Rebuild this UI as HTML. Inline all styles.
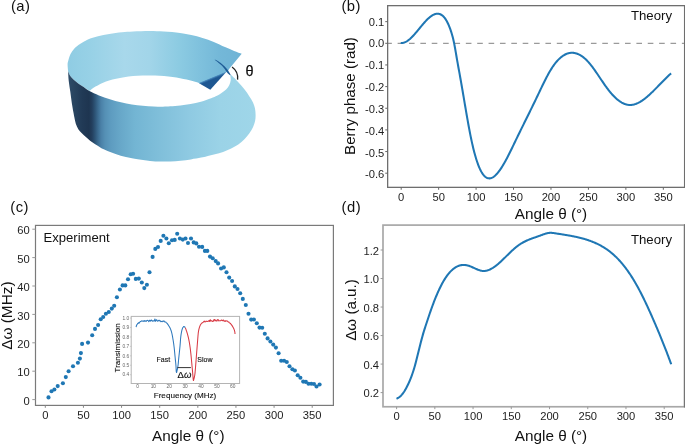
<!DOCTYPE html>
<html><head><meta charset="utf-8"><style>
html,body{margin:0;padding:0;background:#fff;width:685px;height:444px;overflow:hidden}
svg{display:block;filter:blur(0.3px);font-family:"Liberation Sans", sans-serif}
</style></head><body>
<svg width="685" height="444" viewBox="0 0 685 444">
<rect width="685" height="444" fill="#fff"/>
<defs>
<linearGradient id="gBack" gradientUnits="userSpaceOnUse" x1="67" y1="0" x2="242" y2="0">
<stop offset="0" stop-color="#8fcce3"/><stop offset="0.13" stop-color="#97d1e6"/><stop offset="0.33" stop-color="#a8d8eb"/>
<stop offset="0.47" stop-color="#a2d5e9"/><stop offset="0.64" stop-color="#8ccbe2"/><stop offset="0.76" stop-color="#7fc1dd"/>
<stop offset="0.87" stop-color="#74b8d8"/><stop offset="1" stop-color="#6fb3d5"/>
</linearGradient>
<linearGradient id="gFront" gradientUnits="userSpaceOnUse" x1="68" y1="0" x2="256" y2="0">
<stop offset="0" stop-color="#2e4c69"/><stop offset="0.032" stop-color="#294560"/><stop offset="0.075" stop-color="#213a56"/>
<stop offset="0.1117" stop-color="#1e3550"/><stop offset="0.1277" stop-color="#233f5e"/><stop offset="0.1436" stop-color="#2d5476"/>
<stop offset="0.1596" stop-color="#3b6b90"/><stop offset="0.1755" stop-color="#4a80a7"/><stop offset="0.1968" stop-color="#5590b5"/><stop offset="0.2287" stop-color="#5e9cc0"/><stop offset="0.282" stop-color="#68a8c9"/>
<stop offset="0.356" stop-color="#73b5d3"/><stop offset="0.489" stop-color="#80bfda"/><stop offset="0.649" stop-color="#8fcae2"/>
<stop offset="0.81" stop-color="#9bd3e7"/><stop offset="1" stop-color="#9fd6e9"/>
</linearGradient>
<linearGradient id="gTri" gradientUnits="userSpaceOnUse" x1="212.19" y1="76.84" x2="213.26" y2="79.43">
<stop offset="0" stop-color="#70b3d5" stop-opacity="0"/><stop offset="0.3" stop-color="#4f8fc0"/><stop offset="0.7" stop-color="#2a66a0"/><stop offset="1" stop-color="#1e5791"/>
</linearGradient>
</defs>
<path d="M68.1,71.3 C68.02,70.17 67.58,66.22 67.60,64.50 C67.62,62.78 67.73,62.70 68.20,61.00 C68.67,59.30 69.37,56.37 70.40,54.30 C71.43,52.23 72.80,50.30 74.40,48.60 C76.00,46.90 77.75,45.60 80.00,44.10 C82.25,42.60 84.90,40.90 87.90,39.60 C90.90,38.30 94.43,37.23 98.00,36.30 C101.57,35.37 105.30,34.67 109.30,34.00 C113.30,33.33 118.03,32.72 122.00,32.30 C125.97,31.88 128.47,31.72 133.10,31.50 C137.73,31.28 144.68,30.98 149.80,31.00 C154.92,31.02 158.77,31.27 163.80,31.60 C168.83,31.93 175.42,32.42 180.00,33.00 C184.58,33.58 187.55,34.27 191.30,35.10 C195.05,35.93 198.75,36.87 202.50,38.00 C206.25,39.13 210.05,40.40 213.80,41.90 C217.55,43.40 221.62,45.50 225.00,47.00 C228.38,48.50 231.32,49.78 234.10,50.90 C236.88,52.02 240.43,53.23 241.70,53.70 L229.50,68.40 227.40,71.70 225.60,72.60 L199.5,83.4 C199.08,83.22 199.15,82.93 197.00,82.30 C194.85,81.67 190.67,80.48 186.60,79.60 C182.53,78.72 177.87,77.67 172.60,77.00 C167.33,76.33 160.85,75.80 155.00,75.60 C149.15,75.40 143.33,75.42 137.50,75.80 C131.67,76.18 125.25,76.97 120.00,77.90 C114.75,78.83 110.08,79.95 106.00,81.40 C101.92,82.85 98.27,85.00 95.50,86.60 C92.73,88.20 90.42,90.27 89.40,91.00 C88.43,90.33 85.47,88.27 83.60,87.00 C81.73,85.73 79.85,84.60 78.20,83.40 C76.55,82.20 75.05,81.07 73.70,79.80 C72.35,78.53 71.03,77.22 70.10,75.80 C69.17,74.38 68.43,72.05 68.10,71.30 Z" fill="url(#gBack)"/>
<path d="M68.10,71.30 C68.43,72.05 69.17,74.38 70.10,75.80 C71.03,77.22 72.35,78.53 73.70,79.80 C75.05,81.07 76.55,82.20 78.20,83.40 C79.85,84.60 81.73,85.73 83.60,87.00 C85.47,88.27 86.83,89.60 89.40,91.00 C91.97,92.40 95.58,94.03 99.00,95.40 C102.42,96.77 106.25,98.05 109.90,99.20 C113.55,100.35 117.25,101.42 120.90,102.30 C124.55,103.18 128.15,103.92 131.80,104.50 C135.45,105.08 139.15,105.47 142.80,105.80 C146.45,106.13 150.33,106.35 153.70,106.50 C157.07,106.65 160.25,106.73 163.00,106.70 C165.75,106.67 167.30,106.52 170.20,106.30 C173.10,106.08 177.00,105.77 180.40,105.40 C183.80,105.03 187.18,104.70 190.60,104.10 C194.02,103.50 197.48,102.77 200.90,101.80 C204.32,100.83 208.42,99.30 211.10,98.30 C213.78,97.30 215.27,96.68 217.00,95.80 C218.73,94.92 219.98,94.03 221.50,93.00 C223.02,91.97 224.82,90.88 226.10,89.60 C227.38,88.32 228.43,86.87 229.20,85.30 C229.97,83.73 230.52,81.82 230.70,80.20 C230.88,78.58 230.37,76.37 230.30,75.60 L231.20,75.10 C232.38,76.28 236.10,79.83 238.30,82.20 C240.50,84.57 242.55,86.93 244.40,89.30 C246.25,91.67 247.97,94.20 249.40,96.40 C250.83,98.60 252.07,100.47 253.00,102.50 C253.93,104.53 254.57,106.52 255.00,108.60 C255.43,110.68 255.58,112.92 255.60,115.00 C255.62,117.08 255.53,119.07 255.10,121.10 C254.67,123.13 253.95,125.18 253.00,127.20 C252.05,129.22 250.83,131.18 249.40,133.20 C247.97,135.22 246.25,137.43 244.40,139.30 C242.55,141.17 240.50,142.88 238.30,144.40 C236.10,145.92 233.73,147.15 231.20,148.40 C228.67,149.65 225.80,150.93 223.10,151.90 C220.40,152.87 217.68,153.48 215.00,154.20 C212.32,154.92 209.32,155.63 207.00,156.20 C204.68,156.77 203.78,157.07 201.10,157.60 C198.42,158.13 194.32,158.88 190.90,159.40 C187.48,159.92 184.02,160.37 180.60,160.70 C177.18,161.03 173.80,161.27 170.40,161.40 C167.00,161.53 163.60,161.58 160.20,161.50 C156.80,161.42 154.02,161.30 150.00,160.90 C145.98,160.50 140.12,159.73 136.10,159.10 C132.08,158.47 129.32,157.95 125.90,157.10 C122.48,156.25 119.02,155.20 115.60,154.00 C112.18,152.80 107.95,151.00 105.40,149.90 C102.85,148.80 102.00,148.33 100.30,147.40 C98.60,146.47 96.90,145.42 95.20,144.30 C93.50,143.18 91.75,141.98 90.10,140.70 C88.45,139.42 86.72,137.88 85.30,136.60 C83.88,135.32 82.77,134.23 81.60,133.00 C80.43,131.77 79.27,130.73 78.30,129.20 C77.33,127.67 76.45,125.73 75.80,123.80 C75.15,121.87 74.80,119.52 74.40,117.60 C74.00,115.68 73.83,114.75 73.40,112.30 C72.97,109.85 72.32,106.32 71.80,102.90 C71.28,99.48 70.82,95.48 70.30,91.80 C69.78,88.12 69.07,84.22 68.70,80.80 C68.33,77.38 68.20,72.88 68.10,71.30 Z" fill="url(#gFront)"/>
<path d="M198.9,82.5 L199.5,83.4 L210.3,89.7 L225.8,72.5 L225.3,71.4 Z" fill="url(#gTri)"/>
<path d="M214.60,59.80 C215.23,60.28 217.17,61.70 218.40,62.70 C219.63,63.70 220.95,64.75 222.00,65.80 C223.05,66.85 223.95,68.02 224.70,69.00 C225.45,69.98 225.82,70.82 226.50,71.70 C227.18,72.58 228.15,73.65 228.80,74.30 C229.45,74.95 230.13,75.38 230.40,75.60 C230.43,75.52 230.65,75.40 230.60,75.10 C230.55,74.80 230.42,74.40 230.10,73.80 C229.78,73.20 229.22,72.30 228.70,71.50 C228.18,70.70 227.70,69.87 227.00,69.00 C226.30,68.13 225.53,67.28 224.50,66.30 C223.47,65.32 222.22,64.15 220.80,63.10 C219.38,62.05 217.03,60.55 216.00,60.00 C214.97,59.45 214.83,59.83 214.60,59.80 Z" fill="#1f5c96"/>
<path d="M232.05,66.92 A13.7,13.7 0 0 1 237.60,79.67" fill="none" stroke="#222" stroke-width="1.3"/>
<text x="245.4" y="75.9" font-size="14.5" fill="#111" stroke="#111" stroke-width="0.25">θ</text>
<line x1="387.65" y1="43.4" x2="684.6" y2="43.4" stroke="#9a9a9a" stroke-width="1.3" stroke-dasharray="5.6 5.77" stroke-dashoffset="1.4"/>
<path d="M400.70,42.94 L401.20,42.98 L401.70,42.98 L402.20,42.95 L402.70,42.89 L403.20,42.79 L403.70,42.67 L404.20,42.51 L404.70,42.33 L405.20,42.12 L405.70,41.88 L406.20,41.61 L406.70,41.32 L407.20,41.01 L407.70,40.67 L408.20,40.32 L408.70,39.94 L409.20,39.54 L409.70,39.12 L410.20,38.68 L410.70,38.22 L411.20,37.75 L411.70,37.27 L412.20,36.76 L412.70,36.25 L413.20,35.72 L413.70,35.18 L414.20,34.63 L414.70,34.07 L415.20,33.50 L415.70,32.92 L416.20,32.34 L416.70,31.75 L417.20,31.15 L417.70,30.55 L418.20,29.94 L418.70,29.34 L419.20,28.73 L419.70,28.12 L420.20,27.51 L420.70,26.91 L421.20,26.30 L421.70,25.70 L422.20,25.10 L422.70,24.51 L423.20,23.92 L423.70,23.34 L424.20,22.77 L424.70,22.21 L425.20,21.66 L425.70,21.12 L426.20,20.58 L426.70,20.07 L427.20,19.56 L427.70,19.07 L428.20,18.60 L428.70,18.14 L429.20,17.70 L429.70,17.27 L430.20,16.87 L430.70,16.49 L431.20,16.12 L431.70,15.78 L432.20,15.46 L432.70,15.17 L433.20,14.90 L433.70,14.65 L434.20,14.44 L434.70,14.25 L435.20,14.09 L435.70,13.95 L436.20,13.85 L436.70,13.78 L437.20,13.74 L437.70,13.74 L438.20,13.77 L438.70,13.83 L439.20,13.93 L439.70,14.07 L440.20,14.25 L440.70,14.48 L441.20,14.74 L441.70,15.05 L442.20,15.41 L442.70,15.82 L443.20,16.28 L443.70,16.79 L444.20,17.36 L444.70,17.98 L445.20,18.66 L445.70,19.39 L446.20,20.19 L446.70,21.05 L447.20,21.98 L447.70,22.97 L448.20,24.03 L448.70,25.15 L449.20,26.35 L449.70,27.62 L450.20,28.97 L450.70,30.39 L451.20,31.89 L451.70,33.49 L452.20,35.21 L452.70,37.06 L453.20,39.06 L453.70,41.25 L454.20,43.62 L454.70,46.21 L455.20,48.96 L455.70,51.83 L456.20,54.77 L456.70,57.71 L457.20,60.60 L457.70,63.42 L458.20,66.20 L458.70,68.95 L459.20,71.69 L459.70,74.43 L460.20,77.20 L460.70,80.00 L461.20,82.84 L461.70,85.72 L462.20,88.62 L462.70,91.54 L463.20,94.48 L463.70,97.42 L464.20,100.38 L464.70,103.33 L465.20,106.27 L465.70,109.20 L466.20,112.12 L466.70,115.01 L467.20,117.87 L467.70,120.69 L468.20,123.48 L468.70,126.22 L469.20,128.91 L469.70,131.54 L470.20,134.10 L470.70,136.60 L471.20,139.03 L471.70,141.37 L472.20,143.63 L472.70,145.82 L473.20,147.93 L473.70,149.95 L474.20,151.90 L474.70,153.78 L475.20,155.57 L475.70,157.29 L476.20,158.94 L476.70,160.51 L477.20,162.01 L477.70,163.44 L478.20,164.79 L478.70,166.08 L479.20,167.29 L479.70,168.44 L480.20,169.51 L480.70,170.52 L481.20,171.46 L481.70,172.33 L482.20,173.14 L482.70,173.89 L483.20,174.57 L483.70,175.19 L484.20,175.75 L484.70,176.26 L485.20,176.71 L485.70,177.10 L486.20,177.43 L486.70,177.72 L487.20,177.95 L487.70,178.13 L488.20,178.25 L488.70,178.34 L489.20,178.37 L489.70,178.36 L490.20,178.30 L490.70,178.20 L491.20,178.05 L491.70,177.87 L492.20,177.64 L492.70,177.38 L493.20,177.08 L493.70,176.74 L494.20,176.37 L494.70,175.96 L495.20,175.52 L495.70,175.05 L496.20,174.55 L496.70,174.02 L497.20,173.47 L497.70,172.88 L498.20,172.27 L498.70,171.64 L499.20,170.98 L499.70,170.29 L500.20,169.59 L500.70,168.86 L501.20,168.10 L501.70,167.33 L502.20,166.54 L502.70,165.73 L503.20,164.90 L503.70,164.05 L504.20,163.19 L504.70,162.31 L505.20,161.41 L505.70,160.50 L506.20,159.57 L506.70,158.64 L507.20,157.69 L507.70,156.73 L508.20,155.76 L508.70,154.77 L509.20,153.78 L509.70,152.78 L510.20,151.78 L510.70,150.76 L511.20,149.74 L511.70,148.72 L512.20,147.69 L512.70,146.66 L513.20,145.62 L513.70,144.59 L514.20,143.55 L514.70,142.51 L515.20,141.47 L515.70,140.43 L516.20,139.39 L516.70,138.36 L517.20,137.33 L517.70,136.30 L518.20,135.27 L518.70,134.25 L519.20,133.22 L519.70,132.20 L520.20,131.18 L520.70,130.16 L521.20,129.15 L521.70,128.13 L522.20,127.11 L522.70,126.10 L523.20,125.09 L523.70,124.08 L524.20,123.06 L524.70,122.05 L525.20,121.04 L525.70,120.03 L526.20,119.02 L526.70,118.01 L527.20,117.00 L527.70,115.99 L528.20,114.97 L528.70,113.96 L529.20,112.95 L529.70,111.93 L530.20,110.92 L530.70,109.90 L531.20,108.88 L531.70,107.86 L532.20,106.84 L532.70,105.82 L533.20,104.80 L533.70,103.77 L534.20,102.74 L534.70,101.71 L535.20,100.68 L535.70,99.64 L536.20,98.60 L536.70,97.56 L537.20,96.51 L537.70,95.47 L538.20,94.42 L538.70,93.37 L539.20,92.32 L539.70,91.27 L540.20,90.22 L540.70,89.17 L541.20,88.13 L541.70,87.08 L542.20,86.05 L542.70,85.02 L543.20,83.99 L543.70,82.98 L544.20,81.97 L544.70,80.97 L545.20,79.97 L545.70,78.99 L546.20,78.02 L546.70,77.06 L547.20,76.12 L547.70,75.19 L548.20,74.27 L548.70,73.37 L549.20,72.48 L549.70,71.61 L550.20,70.76 L550.70,69.93 L551.20,69.12 L551.70,68.33 L552.20,67.55 L552.70,66.80 L553.20,66.07 L553.70,65.36 L554.20,64.67 L554.70,64.00 L555.20,63.35 L555.70,62.72 L556.20,62.11 L556.70,61.52 L557.20,60.95 L557.70,60.40 L558.20,59.86 L558.70,59.35 L559.20,58.86 L559.70,58.39 L560.20,57.94 L560.70,57.51 L561.20,57.09 L561.70,56.70 L562.20,56.32 L562.70,55.97 L563.20,55.63 L563.70,55.31 L564.20,55.02 L564.70,54.74 L565.20,54.48 L565.70,54.24 L566.20,54.01 L566.70,53.81 L567.20,53.62 L567.70,53.46 L568.20,53.31 L568.70,53.18 L569.20,53.07 L569.70,52.98 L570.20,52.90 L570.70,52.84 L571.20,52.81 L571.70,52.79 L572.20,52.78 L572.70,52.80 L573.20,52.83 L573.70,52.89 L574.20,52.95 L574.70,53.04 L575.20,53.15 L575.70,53.27 L576.20,53.41 L576.70,53.57 L577.20,53.74 L577.70,53.93 L578.20,54.14 L578.70,54.37 L579.20,54.61 L579.70,54.87 L580.20,55.15 L580.70,55.45 L581.20,55.76 L581.70,56.09 L582.20,56.43 L582.70,56.80 L583.20,57.18 L583.70,57.57 L584.20,57.98 L584.70,58.41 L585.20,58.86 L585.70,59.32 L586.20,59.80 L586.70,60.29 L587.20,60.80 L587.70,61.33 L588.20,61.87 L588.70,62.43 L589.20,63.00 L589.70,63.59 L590.20,64.19 L590.70,64.81 L591.20,65.44 L591.70,66.08 L592.20,66.74 L592.70,67.40 L593.20,68.08 L593.70,68.76 L594.20,69.46 L594.70,70.16 L595.20,70.87 L595.70,71.58 L596.20,72.30 L596.70,73.03 L597.20,73.76 L597.70,74.50 L598.20,75.24 L598.70,75.98 L599.20,76.72 L599.70,77.47 L600.20,78.21 L600.70,78.96 L601.20,79.70 L601.70,80.45 L602.20,81.19 L602.70,81.92 L603.20,82.66 L603.70,83.38 L604.20,84.11 L604.70,84.83 L605.20,85.54 L605.70,86.24 L606.20,86.94 L606.70,87.63 L607.20,88.31 L607.70,88.97 L608.20,89.63 L608.70,90.28 L609.20,90.91 L609.70,91.54 L610.20,92.15 L610.70,92.75 L611.20,93.33 L611.70,93.91 L612.20,94.47 L612.70,95.02 L613.20,95.55 L613.70,96.07 L614.20,96.58 L614.70,97.08 L615.20,97.56 L615.70,98.03 L616.20,98.48 L616.70,98.92 L617.20,99.35 L617.70,99.76 L618.20,100.16 L618.70,100.54 L619.20,100.91 L619.70,101.26 L620.20,101.60 L620.70,101.93 L621.20,102.23 L621.70,102.53 L622.20,102.80 L622.70,103.06 L623.20,103.31 L623.70,103.53 L624.20,103.75 L624.70,103.94 L625.20,104.12 L625.70,104.28 L626.20,104.43 L626.70,104.56 L627.20,104.67 L627.70,104.76 L628.20,104.84 L628.70,104.90 L629.20,104.94 L629.70,104.96 L630.20,104.97 L630.70,104.95 L631.20,104.92 L631.70,104.88 L632.20,104.82 L632.70,104.74 L633.20,104.64 L633.70,104.53 L634.20,104.40 L634.70,104.26 L635.20,104.11 L635.70,103.94 L636.20,103.75 L636.70,103.55 L637.20,103.34 L637.70,103.11 L638.20,102.88 L638.70,102.62 L639.20,102.36 L639.70,102.09 L640.20,101.80 L640.70,101.50 L641.20,101.19 L641.70,100.87 L642.20,100.53 L642.70,100.19 L643.20,99.84 L643.70,99.48 L644.20,99.11 L644.70,98.73 L645.20,98.34 L645.70,97.94 L646.20,97.53 L646.70,97.12 L647.20,96.70 L647.70,96.27 L648.20,95.83 L648.70,95.39 L649.20,94.94 L649.70,94.48 L650.20,94.02 L650.70,93.56 L651.20,93.08 L651.70,92.61 L652.20,92.12 L652.70,91.64 L653.20,91.15 L653.70,90.65 L654.20,90.15 L654.70,89.65 L655.20,89.15 L655.70,88.64 L656.20,88.13 L656.70,87.62 L657.20,87.11 L657.70,86.60 L658.20,86.08 L658.70,85.57 L659.20,85.05 L659.70,84.53 L660.20,84.02 L660.70,83.50 L661.20,82.98 L661.70,82.47 L662.20,81.96 L662.70,81.44 L663.20,80.93 L663.70,80.43 L664.20,79.92 L664.70,79.42 L665.20,78.92 L665.70,78.42 L666.20,77.93 L666.70,77.44 L667.20,76.96 L667.70,76.48 L668.20,76.00 L668.70,75.53 L669.20,75.07 L669.70,74.61 L670.20,74.16 L670.70,73.71 L671.10,73.36" fill="none" stroke="#1f77b4" stroke-width="2.05" stroke-linecap="butt" stroke-linejoin="round"/>
<rect x="387.65" y="5.65" width="296.95000000000005" height="181.7" fill="none" stroke="#6e6e6e" stroke-width="1.3"/>
<line x1="401.20" y1="187.35" x2="401.20" y2="189.75" stroke="#666" stroke-width="1"/>
<text x="401.20" y="200.6" font-size="11.2" text-anchor="middle" fill="#1e1e1e">0</text>
<line x1="438.64" y1="187.35" x2="438.64" y2="189.75" stroke="#666" stroke-width="1"/>
<text x="438.64" y="200.6" font-size="11.2" text-anchor="middle" fill="#1e1e1e">50</text>
<line x1="476.09" y1="187.35" x2="476.09" y2="189.75" stroke="#666" stroke-width="1"/>
<text x="476.09" y="200.6" font-size="11.2" text-anchor="middle" fill="#1e1e1e">100</text>
<line x1="513.53" y1="187.35" x2="513.53" y2="189.75" stroke="#666" stroke-width="1"/>
<text x="513.53" y="200.6" font-size="11.2" text-anchor="middle" fill="#1e1e1e">150</text>
<line x1="550.98" y1="187.35" x2="550.98" y2="189.75" stroke="#666" stroke-width="1"/>
<text x="550.98" y="200.6" font-size="11.2" text-anchor="middle" fill="#1e1e1e">200</text>
<line x1="588.42" y1="187.35" x2="588.42" y2="189.75" stroke="#666" stroke-width="1"/>
<text x="588.42" y="200.6" font-size="11.2" text-anchor="middle" fill="#1e1e1e">250</text>
<line x1="625.87" y1="187.35" x2="625.87" y2="189.75" stroke="#666" stroke-width="1"/>
<text x="625.87" y="200.6" font-size="11.2" text-anchor="middle" fill="#1e1e1e">300</text>
<line x1="663.32" y1="187.35" x2="663.32" y2="189.75" stroke="#666" stroke-width="1"/>
<text x="663.32" y="200.6" font-size="11.2" text-anchor="middle" fill="#1e1e1e">350</text>
<line x1="385.25" y1="21.65" x2="387.65" y2="21.65" stroke="#666" stroke-width="1"/>
<text x="384.25" y="25.81" font-size="11.2" text-anchor="end" fill="#1e1e1e">0.1</text>
<line x1="385.25" y1="43.30" x2="387.65" y2="43.30" stroke="#666" stroke-width="1"/>
<text x="384.25" y="47.06" font-size="11.2" text-anchor="end" fill="#1e1e1e">0.0</text>
<line x1="385.25" y1="64.95" x2="387.65" y2="64.95" stroke="#666" stroke-width="1"/>
<text x="384.25" y="68.96" font-size="11.2" text-anchor="end" fill="#1e1e1e">-0.1</text>
<line x1="385.25" y1="86.60" x2="387.65" y2="86.60" stroke="#666" stroke-width="1"/>
<text x="384.25" y="91.41" font-size="11.2" text-anchor="end" fill="#1e1e1e">-0.2</text>
<line x1="385.25" y1="108.25" x2="387.65" y2="108.25" stroke="#666" stroke-width="1"/>
<text x="384.25" y="113.41" font-size="11.2" text-anchor="end" fill="#1e1e1e">-0.3</text>
<line x1="385.25" y1="129.90" x2="387.65" y2="129.90" stroke="#666" stroke-width="1"/>
<text x="384.25" y="135.06" font-size="11.2" text-anchor="end" fill="#1e1e1e">-0.4</text>
<line x1="385.25" y1="151.55" x2="387.65" y2="151.55" stroke="#666" stroke-width="1"/>
<text x="384.25" y="156.66" font-size="11.2" text-anchor="end" fill="#1e1e1e">-0.5</text>
<line x1="385.25" y1="173.20" x2="387.65" y2="173.20" stroke="#666" stroke-width="1"/>
<text x="384.25" y="178.46" font-size="11.2" text-anchor="end" fill="#1e1e1e">-0.6</text>
<text x="672" y="20.3" font-size="13.2" text-anchor="end" fill="#111">Theory</text>
<text transform="translate(355.0,96.0) rotate(-90)" font-size="15.15" text-anchor="middle" fill="#111">Berry phase (rad)</text>
<text x="551" y="218.9" font-size="15.3" text-anchor="middle" fill="#111">Angle θ (°)</text>
<circle cx="48.5" cy="397.4" r="2.05" fill="#1f77b4"/>
<circle cx="51.5" cy="391.3" r="2.05" fill="#1f77b4"/>
<circle cx="54.4" cy="389.5" r="2.05" fill="#1f77b4"/>
<circle cx="57.7" cy="386.1" r="2.05" fill="#1f77b4"/>
<circle cx="62.9" cy="383.2" r="2.05" fill="#1f77b4"/>
<circle cx="65.8" cy="377.1" r="2.05" fill="#1f77b4"/>
<circle cx="68.6" cy="371.3" r="2.05" fill="#1f77b4"/>
<circle cx="73" cy="366.3" r="2.05" fill="#1f77b4"/>
<circle cx="77.9" cy="362.8" r="2.05" fill="#1f77b4"/>
<circle cx="79.9" cy="358.6" r="2.05" fill="#1f77b4"/>
<circle cx="80.9" cy="353.1" r="2.05" fill="#1f77b4"/>
<circle cx="82.1" cy="343.9" r="2.05" fill="#1f77b4"/>
<circle cx="88" cy="342.6" r="2.05" fill="#1f77b4"/>
<circle cx="92.2" cy="335.3" r="2.05" fill="#1f77b4"/>
<circle cx="95" cy="328.9" r="2.05" fill="#1f77b4"/>
<circle cx="98.1" cy="325" r="2.05" fill="#1f77b4"/>
<circle cx="100.7" cy="319.3" r="2.05" fill="#1f77b4"/>
<circle cx="103.2" cy="317" r="2.05" fill="#1f77b4"/>
<circle cx="105.9" cy="313.8" r="2.05" fill="#1f77b4"/>
<circle cx="108.8" cy="312" r="2.05" fill="#1f77b4"/>
<circle cx="111.8" cy="308.6" r="2.05" fill="#1f77b4"/>
<circle cx="114.2" cy="305.7" r="2.05" fill="#1f77b4"/>
<circle cx="116.9" cy="297.2" r="2.05" fill="#1f77b4"/>
<circle cx="119.9" cy="289.5" r="2.05" fill="#1f77b4"/>
<circle cx="122.6" cy="285.4" r="2.05" fill="#1f77b4"/>
<circle cx="125.3" cy="285.4" r="2.05" fill="#1f77b4"/>
<circle cx="128" cy="279.3" r="2.05" fill="#1f77b4"/>
<circle cx="130.7" cy="274.2" r="2.05" fill="#1f77b4"/>
<circle cx="133.1" cy="273.8" r="2.05" fill="#1f77b4"/>
<circle cx="135.8" cy="278.9" r="2.05" fill="#1f77b4"/>
<circle cx="138.8" cy="278.6" r="2.05" fill="#1f77b4"/>
<circle cx="141.8" cy="282.5" r="2.05" fill="#1f77b4"/>
<circle cx="144.3" cy="288.1" r="2.05" fill="#1f77b4"/>
<circle cx="146.9" cy="284.8" r="2.05" fill="#1f77b4"/>
<circle cx="149.5" cy="272.3" r="2.05" fill="#1f77b4"/>
<circle cx="152.6" cy="256.9" r="2.05" fill="#1f77b4"/>
<circle cx="155.3" cy="248.9" r="2.05" fill="#1f77b4"/>
<circle cx="158" cy="247" r="2.05" fill="#1f77b4"/>
<circle cx="160.7" cy="240.9" r="2.05" fill="#1f77b4"/>
<circle cx="163.4" cy="235.8" r="2.05" fill="#1f77b4"/>
<circle cx="166.4" cy="238.5" r="2.05" fill="#1f77b4"/>
<circle cx="168.8" cy="243.2" r="2.05" fill="#1f77b4"/>
<circle cx="172" cy="240.3" r="2.05" fill="#1f77b4"/>
<circle cx="174.7" cy="239.9" r="2.05" fill="#1f77b4"/>
<circle cx="177.2" cy="233.8" r="2.05" fill="#1f77b4"/>
<circle cx="179.9" cy="238.5" r="2.05" fill="#1f77b4"/>
<circle cx="182.8" cy="239.6" r="2.05" fill="#1f77b4"/>
<circle cx="185.5" cy="238.5" r="2.05" fill="#1f77b4"/>
<circle cx="188" cy="243" r="2.05" fill="#1f77b4"/>
<circle cx="191" cy="238.5" r="2.05" fill="#1f77b4"/>
<circle cx="193.7" cy="242.4" r="2.05" fill="#1f77b4"/>
<circle cx="196.3" cy="243.4" r="2.05" fill="#1f77b4"/>
<circle cx="199" cy="246.8" r="2.05" fill="#1f77b4"/>
<circle cx="202.2" cy="246.9" r="2.05" fill="#1f77b4"/>
<circle cx="204.9" cy="250.9" r="2.05" fill="#1f77b4"/>
<circle cx="207.3" cy="250.9" r="2.05" fill="#1f77b4"/>
<circle cx="210" cy="256.6" r="2.05" fill="#1f77b4"/>
<circle cx="212.7" cy="258.2" r="2.05" fill="#1f77b4"/>
<circle cx="215.7" cy="261.1" r="2.05" fill="#1f77b4"/>
<circle cx="218.1" cy="263.4" r="2.05" fill="#1f77b4"/>
<circle cx="221.1" cy="268.5" r="2.05" fill="#1f77b4"/>
<circle cx="223.8" cy="267.4" r="2.05" fill="#1f77b4"/>
<circle cx="226.5" cy="272.2" r="2.05" fill="#1f77b4"/>
<circle cx="229.2" cy="277.6" r="2.05" fill="#1f77b4"/>
<circle cx="232.1" cy="281" r="2.05" fill="#1f77b4"/>
<circle cx="234.8" cy="286.4" r="2.05" fill="#1f77b4"/>
<circle cx="237.5" cy="289" r="2.05" fill="#1f77b4"/>
<circle cx="240.2" cy="293.3" r="2.05" fill="#1f77b4"/>
<circle cx="242.8" cy="298.9" r="2.05" fill="#1f77b4"/>
<circle cx="245.8" cy="305" r="2.05" fill="#1f77b4"/>
<circle cx="248.5" cy="313.8" r="2.05" fill="#1f77b4"/>
<circle cx="251.2" cy="319.6" r="2.05" fill="#1f77b4"/>
<circle cx="253.9" cy="319.5" r="2.05" fill="#1f77b4"/>
<circle cx="256.8" cy="323.2" r="2.05" fill="#1f77b4"/>
<circle cx="259.5" cy="327.6" r="2.05" fill="#1f77b4"/>
<circle cx="262.2" cy="327.7" r="2.05" fill="#1f77b4"/>
<circle cx="264.8" cy="333.8" r="2.05" fill="#1f77b4"/>
<circle cx="267.6" cy="338.4" r="2.05" fill="#1f77b4"/>
<circle cx="270.4" cy="341.5" r="2.05" fill="#1f77b4"/>
<circle cx="273.2" cy="344.6" r="2.05" fill="#1f77b4"/>
<circle cx="275.9" cy="347.6" r="2.05" fill="#1f77b4"/>
<circle cx="278.6" cy="353.2" r="2.05" fill="#1f77b4"/>
<circle cx="281.2" cy="360.8" r="2.05" fill="#1f77b4"/>
<circle cx="284.1" cy="360.8" r="2.05" fill="#1f77b4"/>
<circle cx="286.8" cy="362" r="2.05" fill="#1f77b4"/>
<circle cx="289.5" cy="366.2" r="2.05" fill="#1f77b4"/>
<circle cx="292.4" cy="369.2" r="2.05" fill="#1f77b4"/>
<circle cx="294.9" cy="370.5" r="2.05" fill="#1f77b4"/>
<circle cx="297.7" cy="375.3" r="2.05" fill="#1f77b4"/>
<circle cx="300.4" cy="377.7" r="2.05" fill="#1f77b4"/>
<circle cx="303.2" cy="381.6" r="2.05" fill="#1f77b4"/>
<circle cx="305.9" cy="381.9" r="2.05" fill="#1f77b4"/>
<circle cx="308.5" cy="383.8" r="2.05" fill="#1f77b4"/>
<circle cx="311.3" cy="383.8" r="2.05" fill="#1f77b4"/>
<circle cx="314" cy="384" r="2.05" fill="#1f77b4"/>
<circle cx="316.5" cy="386.5" r="2.05" fill="#1f77b4"/>
<circle cx="319.6" cy="384.5" r="2.05" fill="#1f77b4"/>
<rect x="35.5" y="225.4" width="297.9" height="179.99999999999997" fill="none" stroke="#7a7a7a" stroke-width="1.2"/>
<line x1="45.30" y1="405.4" x2="45.30" y2="407.79999999999995" stroke="#888" stroke-width="1"/>
<text x="45.30" y="419.2" font-size="11.2" text-anchor="middle" fill="#1e1e1e">0</text>
<line x1="83.43" y1="405.4" x2="83.43" y2="407.79999999999995" stroke="#888" stroke-width="1"/>
<text x="83.43" y="419.2" font-size="11.2" text-anchor="middle" fill="#1e1e1e">50</text>
<line x1="121.56" y1="405.4" x2="121.56" y2="407.79999999999995" stroke="#888" stroke-width="1"/>
<text x="121.56" y="419.2" font-size="11.2" text-anchor="middle" fill="#1e1e1e">100</text>
<line x1="159.69" y1="405.4" x2="159.69" y2="407.79999999999995" stroke="#888" stroke-width="1"/>
<text x="159.69" y="419.2" font-size="11.2" text-anchor="middle" fill="#1e1e1e">150</text>
<line x1="197.82" y1="405.4" x2="197.82" y2="407.79999999999995" stroke="#888" stroke-width="1"/>
<text x="197.82" y="419.2" font-size="11.2" text-anchor="middle" fill="#1e1e1e">200</text>
<line x1="235.95" y1="405.4" x2="235.95" y2="407.79999999999995" stroke="#888" stroke-width="1"/>
<text x="235.95" y="419.2" font-size="11.2" text-anchor="middle" fill="#1e1e1e">250</text>
<line x1="274.08" y1="405.4" x2="274.08" y2="407.79999999999995" stroke="#888" stroke-width="1"/>
<text x="274.08" y="419.2" font-size="11.2" text-anchor="middle" fill="#1e1e1e">300</text>
<line x1="312.21" y1="405.4" x2="312.21" y2="407.79999999999995" stroke="#888" stroke-width="1"/>
<text x="312.21" y="419.2" font-size="11.2" text-anchor="middle" fill="#1e1e1e">350</text>
<line x1="32.3" y1="399.60" x2="35.5" y2="399.60" stroke="#999" stroke-width="1"/>
<text x="29.7" y="404.70" font-size="11.2" text-anchor="end" fill="#1e1e1e">0</text>
<line x1="32.3" y1="371.20" x2="35.5" y2="371.20" stroke="#999" stroke-width="1"/>
<text x="29.7" y="376.30" font-size="11.2" text-anchor="end" fill="#1e1e1e">10</text>
<line x1="32.3" y1="342.80" x2="35.5" y2="342.80" stroke="#999" stroke-width="1"/>
<text x="29.7" y="347.90" font-size="11.2" text-anchor="end" fill="#1e1e1e">20</text>
<line x1="32.3" y1="314.40" x2="35.5" y2="314.40" stroke="#999" stroke-width="1"/>
<text x="29.7" y="319.50" font-size="11.2" text-anchor="end" fill="#1e1e1e">30</text>
<line x1="32.3" y1="286.00" x2="35.5" y2="286.00" stroke="#999" stroke-width="1"/>
<text x="29.7" y="291.10" font-size="11.2" text-anchor="end" fill="#1e1e1e">40</text>
<line x1="32.3" y1="257.60" x2="35.5" y2="257.60" stroke="#999" stroke-width="1"/>
<text x="29.7" y="262.70" font-size="11.2" text-anchor="end" fill="#1e1e1e">50</text>
<line x1="32.3" y1="229.20" x2="35.5" y2="229.20" stroke="#999" stroke-width="1"/>
<text x="29.7" y="234.30" font-size="11.2" text-anchor="end" fill="#1e1e1e">60</text>
<text x="43.5" y="242.3" font-size="13.1" fill="#111">Experiment</text>
<text transform="translate(11.8,315.6) rotate(-90)" font-size="15.4" text-anchor="middle" fill="#111">Δω (MHz)</text>
<text x="188.3" y="440.6" font-size="15.3" text-anchor="middle" fill="#111">Angle θ (°)</text>
<rect x="131.2" y="316.4" width="108.4" height="67.10000000000002" fill="white" stroke="#b4b4b4" stroke-width="1.0"/>
<path d="M136.10,327.10 L136.24,326.39 L136.43,325.74 L136.67,325.14 L136.96,324.59 L137.30,324.09 L137.67,323.50 L138.08,323.19 L138.53,322.69 L139.01,323.34 L139.51,322.29 L140.04,321.83 L140.59,321.61 L141.16,321.23 L141.74,320.84 L142.33,320.98 L142.93,321.30 L143.53,320.80 L144.13,321.39 L144.73,320.63 L145.32,320.69 L145.92,321.55 L146.52,320.90 L147.12,320.24 L147.72,320.41 L148.31,320.83 L148.91,321.66 L149.51,320.34 L150.11,320.36 L150.71,321.13 L151.31,320.01 L151.91,320.39 L152.51,321.12 L153.11,320.97 L153.71,320.70 L154.31,321.07 L154.91,319.00 L155.50,321.33 L156.10,320.16 L156.69,319.76 L157.29,320.94 L157.89,321.21 L158.48,320.55 L159.09,320.19 L159.69,320.87 L160.30,320.85 L160.91,321.76 L161.53,321.40 L162.14,321.13 L162.75,321.74 L163.35,321.09 L163.93,320.90 L164.49,321.76 L165.03,321.95 L165.53,322.00 L166.01,322.27 L166.46,322.82 L166.89,323.10 L167.29,323.69 L167.67,324.17 L168.04,324.67 L168.39,325.18 L168.72,325.70 L169.05,326.21 L169.35,326.73 L169.65,327.26 L169.92,327.79 L170.19,328.32 L170.43,328.86 L170.66,329.41 L170.88,329.97 L171.08,330.53 L171.26,331.10 L171.43,331.67 L171.59,332.25 L171.73,332.84 L171.87,333.42 L172.00,334.01 L172.13,334.60 L172.25,335.20 L172.36,335.79 L172.47,336.38 L172.58,336.96 L172.69,337.55 L172.79,338.14 L172.89,338.73 L172.99,339.31 L173.09,339.90 L173.18,340.48 L173.28,341.07 L173.37,341.66 L173.46,342.25 L173.54,342.84 L173.63,343.44 L173.71,344.03 L173.79,344.63 L173.87,345.23 L173.95,345.83 L174.02,346.44 L174.09,347.05 L174.17,347.67 L174.24,348.29 L174.30,348.91 L174.37,349.53 L174.44,350.15 L174.50,350.77 L174.56,351.40 L174.62,352.02 L174.68,352.64 L174.74,353.26 L174.80,353.87 L174.86,354.48 L174.92,355.08 L174.97,355.68 L175.03,356.27 L175.09,356.86 L175.14,357.43 L175.20,358.00 L175.25,358.56 L175.31,359.10 L175.36,359.64 L175.42,360.16 L175.47,360.68 L175.53,361.18 L175.58,361.69 L175.64,362.20 L175.69,362.72 L175.74,363.25 L175.80,363.80 L175.85,364.38 L175.89,364.98 L175.94,365.61 L175.99,366.29 L176.03,367.00 L176.07,367.77 L176.10,368.58 L176.14,369.44 L176.18,370.28 L176.23,371.05 L176.29,371.67 L176.37,371.79 L176.49,372.49 L176.63,372.52 L176.80,371.55 L176.98,370.89 L177.16,370.13 L177.33,369.34 L177.49,368.59 L177.63,367.88 L177.75,367.20 L177.86,366.55 L177.95,365.93 L178.03,365.34 L178.11,364.76 L178.17,364.20 L178.23,363.66 L178.28,363.13 L178.33,362.60 L178.38,362.08 L178.43,361.55 L178.47,361.02 L178.52,360.48 L178.57,359.94 L178.62,359.38 L178.68,358.82 L178.74,358.25 L178.79,357.67 L178.86,357.08 L178.92,356.49 L178.98,355.90 L179.05,355.29 L179.11,354.69 L179.18,354.08 L179.24,353.47 L179.31,352.85 L179.38,352.24 L179.44,351.62 L179.51,351.00 L179.58,350.38 L179.64,349.76 L179.70,349.15 L179.77,348.53 L179.83,347.92 L179.89,347.31 L179.95,346.70 L180.00,346.10 L180.06,345.50 L180.11,344.91 L180.16,344.33 L180.20,343.75 L180.25,343.17 L180.29,342.61 L180.33,342.05 L180.37,341.49 L180.41,340.93 L180.45,340.38 L180.49,339.82 L180.53,339.26 L180.58,338.71 L180.63,338.14 L180.69,337.58 L180.75,337.01 L180.81,336.43 L180.89,335.84 L180.97,335.24 L181.06,334.64 L181.15,334.02 L181.26,333.39 L181.38,332.74 L181.51,332.08 L181.65,331.41 L181.80,330.71 L181.97,330.00 L182.16,329.29 L182.37,328.61 L182.61,327.99 L182.90,327.47 L183.24,327.04 L183.63,326.43 L184.10,326.79 L184.64,326.82 L185.26,327.66 L185.30,327.70" fill="none" stroke="#2d78bc" stroke-width="1.05" stroke-linejoin="round"/>
<path d="M185.30,327.70 L185.52,328.27 L185.74,328.84 L185.95,329.41 L186.16,329.98 L186.36,330.55 L186.55,331.12 L186.74,331.69 L186.92,332.25 L187.10,332.82 L187.27,333.39 L187.43,333.97 L187.59,334.54 L187.75,335.11 L187.90,335.68 L188.05,336.25 L188.19,336.83 L188.32,337.41 L188.46,337.98 L188.59,338.56 L188.71,339.14 L188.83,339.72 L188.95,340.30 L189.06,340.89 L189.17,341.47 L189.28,342.06 L189.38,342.65 L189.48,343.24 L189.58,343.83 L189.67,344.43 L189.77,345.03 L189.85,345.63 L189.94,346.23 L190.03,346.83 L190.11,347.44 L190.19,348.05 L190.27,348.67 L190.35,349.28 L190.42,349.90 L190.50,350.52 L190.57,351.14 L190.64,351.77 L190.71,352.39 L190.78,353.02 L190.85,353.64 L190.92,354.27 L190.98,354.89 L191.04,355.51 L191.11,356.13 L191.17,356.75 L191.23,357.37 L191.29,357.98 L191.34,358.59 L191.40,359.19 L191.46,359.79 L191.51,360.38 L191.57,360.97 L191.62,361.56 L191.67,362.13 L191.73,362.70 L191.78,363.26 L191.83,363.82 L191.88,364.36 L191.93,364.90 L191.97,365.43 L192.02,365.95 L192.07,366.46 L192.12,366.96 L192.17,367.46 L192.21,367.96 L192.26,368.47 L192.31,368.98 L192.36,369.50 L192.41,370.03 L192.46,370.58 L192.51,371.14 L192.56,371.73 L192.61,372.33 L192.67,372.97 L192.72,373.63 L192.78,374.33 L192.84,375.06 L192.91,375.83 L192.97,376.64 L193.04,377.49 L193.11,378.33 L193.20,379.09 L193.30,379.65 L193.43,380.55 L193.58,380.18 L193.76,379.55 L193.95,378.94 L194.14,378.18 L194.32,377.40 L194.47,376.67 L194.60,376.00 L194.71,375.37 L194.80,374.78 L194.88,374.21 L194.95,373.67 L195.01,373.15 L195.06,372.62 L195.11,372.10 L195.16,371.56 L195.21,371.02 L195.26,370.47 L195.31,369.91 L195.36,369.34 L195.40,368.77 L195.45,368.19 L195.50,367.60 L195.55,367.01 L195.60,366.41 L195.65,365.81 L195.69,365.20 L195.74,364.59 L195.79,363.97 L195.84,363.36 L195.89,362.74 L195.93,362.12 L195.98,361.49 L196.03,360.87 L196.08,360.24 L196.12,359.62 L196.17,358.99 L196.22,358.37 L196.27,357.75 L196.31,357.13 L196.36,356.51 L196.41,355.89 L196.46,355.28 L196.50,354.67 L196.55,354.06 L196.60,353.45 L196.65,352.84 L196.69,352.23 L196.74,351.63 L196.79,351.03 L196.84,350.43 L196.88,349.83 L196.93,349.23 L196.98,348.63 L197.02,348.04 L197.07,347.44 L197.12,346.85 L197.17,346.25 L197.21,345.66 L197.26,345.07 L197.31,344.47 L197.36,343.88 L197.40,343.29 L197.45,342.70 L197.50,342.11 L197.54,341.52 L197.59,340.93 L197.64,340.34 L197.68,339.75 L197.73,339.16 L197.78,338.57 L197.82,337.98 L197.87,337.39 L197.92,336.80 L197.96,336.21 L198.01,335.62 L198.06,335.02 L198.12,334.43 L198.17,333.84 L198.24,333.24 L198.31,332.65 L198.39,332.06 L198.48,331.47 L198.58,330.87 L198.69,330.28 L198.81,329.69 L198.95,329.10 L199.10,328.51 L199.27,327.92 L199.45,327.33 L199.66,326.74 L199.88,326.16 L200.12,325.58 L200.39,325.02 L200.69,324.48 L201.02,323.97 L201.38,323.49 L201.78,323.07 L202.22,322.91 L202.69,322.54 L203.21,322.21 L203.75,321.62 L204.32,321.03 L204.91,321.93 L205.51,321.82 L206.12,321.12 L206.73,321.38 L207.34,321.41 L207.95,321.34 L208.55,321.30 L209.14,320.41 L209.74,321.50 L210.33,319.77 L210.92,320.98 L211.51,320.71 L212.10,320.92 L212.70,321.52 L213.29,321.30 L213.89,319.75 L214.49,319.46 L215.09,321.01 L215.69,319.96 L216.30,320.61 L216.90,321.16 L217.50,319.71 L218.09,319.47 L218.69,320.91 L219.29,320.80 L219.88,320.65 L220.48,320.83 L221.08,320.31 L221.68,319.93 L222.27,320.77 L222.88,320.31 L223.48,319.95 L224.09,321.28 L224.69,321.00 L225.30,321.36 L225.91,320.66 L226.51,321.00 L227.09,321.02 L227.66,321.31 L228.22,321.97 L228.74,321.94 L229.24,322.56 L229.71,322.89 L230.16,323.44 L230.58,323.59 L230.98,324.14 L231.36,324.60 L231.73,325.10 L232.08,325.61 L232.41,326.13 L232.73,326.65 L233.03,327.17 L233.32,327.71 L233.58,328.24 L233.83,328.79 L234.06,329.34 L234.27,329.90 L234.45,330.46 L234.61,331.03 L234.74,331.61 L234.85,332.20 L234.93,332.80 L234.98,333.41 L235.00,333.90" fill="none" stroke="#d83a44" stroke-width="1.05" stroke-linejoin="round"/>
<line x1="137.50" y1="383.5" x2="137.50" y2="384.8" stroke="#aaa" stroke-width="0.5"/>
<text x="137.50" y="388.2" font-size="4.8" text-anchor="middle" fill="#666">0</text>
<line x1="153.38" y1="383.5" x2="153.38" y2="384.8" stroke="#aaa" stroke-width="0.5"/>
<text x="153.38" y="388.2" font-size="4.8" text-anchor="middle" fill="#666">10</text>
<line x1="169.26" y1="383.5" x2="169.26" y2="384.8" stroke="#aaa" stroke-width="0.5"/>
<text x="169.26" y="388.2" font-size="4.8" text-anchor="middle" fill="#666">20</text>
<line x1="185.14" y1="383.5" x2="185.14" y2="384.8" stroke="#aaa" stroke-width="0.5"/>
<text x="185.14" y="388.2" font-size="4.8" text-anchor="middle" fill="#666">30</text>
<line x1="201.02" y1="383.5" x2="201.02" y2="384.8" stroke="#aaa" stroke-width="0.5"/>
<text x="201.02" y="388.2" font-size="4.8" text-anchor="middle" fill="#666">40</text>
<line x1="216.90" y1="383.5" x2="216.90" y2="384.8" stroke="#aaa" stroke-width="0.5"/>
<text x="216.90" y="388.2" font-size="4.8" text-anchor="middle" fill="#666">50</text>
<line x1="232.78" y1="383.5" x2="232.78" y2="384.8" stroke="#aaa" stroke-width="0.5"/>
<text x="232.78" y="388.2" font-size="4.8" text-anchor="middle" fill="#666">60</text>
<line x1="129.89999999999998" y1="318.10" x2="131.2" y2="318.10" stroke="#aaa" stroke-width="0.5"/>
<text x="129.2" y="319.80" font-size="4.8" text-anchor="end" fill="#666">1.0</text>
<line x1="129.89999999999998" y1="327.53" x2="131.2" y2="327.53" stroke="#aaa" stroke-width="0.5"/>
<text x="129.2" y="329.23" font-size="4.8" text-anchor="end" fill="#666">0.9</text>
<line x1="129.89999999999998" y1="336.96" x2="131.2" y2="336.96" stroke="#aaa" stroke-width="0.5"/>
<text x="129.2" y="338.66" font-size="4.8" text-anchor="end" fill="#666">0.8</text>
<line x1="129.89999999999998" y1="346.39" x2="131.2" y2="346.39" stroke="#aaa" stroke-width="0.5"/>
<text x="129.2" y="348.09" font-size="4.8" text-anchor="end" fill="#666">0.7</text>
<line x1="129.89999999999998" y1="355.82" x2="131.2" y2="355.82" stroke="#aaa" stroke-width="0.5"/>
<text x="129.2" y="357.52" font-size="4.8" text-anchor="end" fill="#666">0.6</text>
<line x1="129.89999999999998" y1="365.25" x2="131.2" y2="365.25" stroke="#aaa" stroke-width="0.5"/>
<text x="129.2" y="366.95" font-size="4.8" text-anchor="end" fill="#666">0.5</text>
<line x1="129.89999999999998" y1="374.68" x2="131.2" y2="374.68" stroke="#aaa" stroke-width="0.5"/>
<text x="129.2" y="376.38" font-size="4.8" text-anchor="end" fill="#666">0.4</text>
<line x1="177.4" y1="367.6" x2="190.9" y2="367.6" stroke="#333" stroke-width="1"/>
<text x="156.6" y="362.3" font-size="7" fill="#111" stroke="#111" stroke-width="0.12">Fast</text>
<text x="197.3" y="362.3" font-size="7" fill="#111" stroke="#111" stroke-width="0.12">Slow</text>
<text x="177.6" y="377.7" font-size="9.5" fill="#111" stroke="#111" stroke-width="0.15">Δ<tspan font-style="italic">ω</tspan></text>
<text transform="translate(119.9,347.9) rotate(-90)" font-size="8" text-anchor="middle" fill="#111" stroke="#111" stroke-width="0.12">Transimission</text>
<text x="185" y="397.7" font-size="8.1" text-anchor="middle" fill="#111" stroke="#111" stroke-width="0.12">Frequency (MHz)</text>
<path d="M396.40,398.63 L396.90,398.46 L397.40,398.26 L397.90,398.02 L398.40,397.73 L398.90,397.41 L399.40,397.04 L399.90,396.64 L400.40,396.19 L400.90,395.71 L401.40,395.18 L401.90,394.61 L402.40,394.01 L402.90,393.37 L403.40,392.68 L403.90,391.96 L404.40,391.20 L404.90,390.40 L405.40,389.56 L405.90,388.68 L406.40,387.76 L406.90,386.81 L407.40,385.82 L407.90,384.79 L408.40,383.72 L408.90,382.61 L409.40,381.47 L409.90,380.29 L410.40,379.07 L410.90,377.82 L411.40,376.52 L411.90,375.16 L412.40,373.76 L412.90,372.29 L413.40,370.75 L413.90,369.15 L414.40,367.47 L414.90,365.71 L415.40,363.87 L415.90,361.97 L416.40,360.03 L416.90,358.04 L417.40,356.04 L417.90,354.02 L418.40,351.99 L418.90,349.97 L419.40,347.96 L419.90,345.96 L420.40,343.98 L420.90,342.03 L421.40,340.12 L421.90,338.24 L422.40,336.41 L422.90,334.63 L423.40,332.91 L423.90,331.25 L424.40,329.64 L424.90,328.07 L425.40,326.52 L425.90,325.00 L426.40,323.48 L426.90,321.97 L427.40,320.46 L427.90,318.96 L428.40,317.46 L428.90,315.98 L429.40,314.51 L429.90,313.04 L430.40,311.60 L430.90,310.17 L431.40,308.75 L431.90,307.36 L432.40,305.99 L432.90,304.63 L433.40,303.30 L433.90,301.99 L434.40,300.70 L434.90,299.43 L435.40,298.18 L435.90,296.96 L436.40,295.75 L436.90,294.57 L437.40,293.41 L437.90,292.28 L438.40,291.17 L438.90,290.08 L439.40,289.01 L439.90,287.96 L440.40,286.94 L440.90,285.95 L441.40,284.98 L441.90,284.03 L442.40,283.10 L442.90,282.20 L443.40,281.33 L443.90,280.48 L444.40,279.65 L444.90,278.85 L445.40,278.07 L445.90,277.32 L446.40,276.60 L446.90,275.89 L447.40,275.21 L447.90,274.56 L448.40,273.93 L448.90,273.32 L449.40,272.74 L449.90,272.17 L450.40,271.64 L450.90,271.12 L451.40,270.63 L451.90,270.15 L452.40,269.70 L452.90,269.28 L453.40,268.87 L453.90,268.49 L454.40,268.12 L454.90,267.78 L455.40,267.46 L455.90,267.15 L456.40,266.87 L456.90,266.61 L457.40,266.37 L457.90,266.15 L458.40,265.95 L458.90,265.76 L459.40,265.60 L459.90,265.46 L460.40,265.33 L460.90,265.22 L461.40,265.13 L461.90,265.06 L462.40,265.01 L462.90,264.97 L463.40,264.95 L463.90,264.95 L464.40,264.97 L464.90,265.00 L465.40,265.05 L465.90,265.11 L466.40,265.20 L466.90,265.29 L467.40,265.41 L467.90,265.54 L468.40,265.68 L468.90,265.84 L469.40,266.01 L469.90,266.19 L470.40,266.39 L470.90,266.59 L471.40,266.80 L471.90,267.02 L472.40,267.24 L472.90,267.47 L473.40,267.70 L473.90,267.93 L474.40,268.16 L474.90,268.39 L475.40,268.62 L475.90,268.84 L476.40,269.06 L476.90,269.28 L477.40,269.49 L477.90,269.69 L478.40,269.88 L478.90,270.05 L479.40,270.22 L479.90,270.38 L480.40,270.51 L480.90,270.64 L481.40,270.74 L481.90,270.83 L482.40,270.90 L482.90,270.95 L483.40,270.97 L483.90,270.98 L484.40,270.96 L484.90,270.92 L485.40,270.86 L485.90,270.78 L486.40,270.68 L486.90,270.57 L487.40,270.43 L487.90,270.27 L488.40,270.10 L488.90,269.91 L489.40,269.71 L489.90,269.48 L490.40,269.25 L490.90,268.99 L491.40,268.72 L491.90,268.44 L492.40,268.15 L492.90,267.84 L493.40,267.51 L493.90,267.18 L494.40,266.83 L494.90,266.47 L495.40,266.10 L495.90,265.72 L496.40,265.33 L496.90,264.93 L497.40,264.52 L497.90,264.10 L498.40,263.68 L498.90,263.24 L499.40,262.80 L499.90,262.36 L500.40,261.90 L500.90,261.44 L501.40,260.98 L501.90,260.51 L502.40,260.03 L502.90,259.55 L503.40,259.07 L503.90,258.59 L504.40,258.10 L504.90,257.61 L505.40,257.12 L505.90,256.63 L506.40,256.13 L506.90,255.64 L507.40,255.15 L507.90,254.66 L508.40,254.17 L508.90,253.68 L509.40,253.19 L509.90,252.71 L510.40,252.23 L510.90,251.75 L511.40,251.28 L511.90,250.81 L512.40,250.35 L512.90,249.89 L513.40,249.44 L513.90,248.99 L514.40,248.56 L514.90,248.13 L515.40,247.70 L515.90,247.29 L516.40,246.88 L516.90,246.49 L517.40,246.10 L517.90,245.72 L518.40,245.36 L518.90,245.00 L519.40,244.66 L519.90,244.33 L520.40,244.00 L520.90,243.69 L521.40,243.38 L521.90,243.08 L522.40,242.79 L522.90,242.51 L523.40,242.24 L523.90,241.97 L524.40,241.72 L524.90,241.47 L525.40,241.22 L525.90,240.98 L526.40,240.75 L526.90,240.53 L527.40,240.30 L527.90,240.09 L528.40,239.88 L528.90,239.67 L529.40,239.47 L529.90,239.27 L530.40,239.08 L530.90,238.89 L531.40,238.70 L531.90,238.52 L532.40,238.33 L532.90,238.15 L533.40,237.97 L533.90,237.80 L534.40,237.62 L534.90,237.45 L535.40,237.27 L535.90,237.10 L536.40,236.93 L536.90,236.75 L537.40,236.58 L537.90,236.40 L538.40,236.22 L538.90,236.05 L539.40,235.87 L539.90,235.68 L540.40,235.50 L540.90,235.31 L541.40,235.12 L541.90,234.93 L542.40,234.75 L542.90,234.56 L543.40,234.38 L543.90,234.20 L544.40,234.02 L544.90,233.86 L545.40,233.70 L545.90,233.55 L546.40,233.41 L546.90,233.28 L547.40,233.17 L547.90,233.06 L548.40,232.98 L548.90,232.91 L549.40,232.86 L549.90,232.83 L550.40,232.81 L550.90,232.81 L551.40,232.83 L551.90,232.86 L552.40,232.90 L552.90,232.95 L553.40,233.01 L553.90,233.08 L554.40,233.16 L554.90,233.23 L555.40,233.31 L555.90,233.40 L556.40,233.48 L556.90,233.56 L557.40,233.64 L557.90,233.72 L558.40,233.80 L558.90,233.88 L559.40,233.96 L559.90,234.03 L560.40,234.11 L560.90,234.19 L561.40,234.27 L561.90,234.35 L562.40,234.43 L562.90,234.51 L563.40,234.59 L563.90,234.67 L564.40,234.75 L564.90,234.83 L565.40,234.91 L565.90,235.00 L566.40,235.08 L566.90,235.16 L567.40,235.25 L567.90,235.33 L568.40,235.42 L568.90,235.51 L569.40,235.59 L569.90,235.68 L570.40,235.77 L570.90,235.86 L571.40,235.96 L571.90,236.05 L572.40,236.15 L572.90,236.24 L573.40,236.34 L573.90,236.44 L574.40,236.54 L574.90,236.64 L575.40,236.75 L575.90,236.85 L576.40,236.96 L576.90,237.07 L577.40,237.18 L577.90,237.30 L578.40,237.41 L578.90,237.53 L579.40,237.65 L579.90,237.77 L580.40,237.90 L580.90,238.02 L581.40,238.15 L581.90,238.29 L582.40,238.42 L582.90,238.56 L583.40,238.70 L583.90,238.84 L584.40,238.98 L584.90,239.13 L585.40,239.28 L585.90,239.44 L586.40,239.59 L586.90,239.75 L587.40,239.91 L587.90,240.08 L588.40,240.25 L588.90,240.42 L589.40,240.60 L589.90,240.78 L590.40,240.96 L590.90,241.15 L591.40,241.34 L591.90,241.53 L592.40,241.73 L592.90,241.93 L593.40,242.13 L593.90,242.34 L594.40,242.55 L594.90,242.77 L595.40,242.99 L595.90,243.22 L596.40,243.45 L596.90,243.68 L597.40,243.92 L597.90,244.16 L598.40,244.41 L598.90,244.66 L599.40,244.92 L599.90,245.18 L600.40,245.45 L600.90,245.72 L601.40,246.00 L601.90,246.28 L602.40,246.57 L602.90,246.86 L603.40,247.16 L603.90,247.47 L604.40,247.78 L604.90,248.10 L605.40,248.42 L605.90,248.75 L606.40,249.09 L606.90,249.43 L607.40,249.79 L607.90,250.14 L608.40,250.51 L608.90,250.88 L609.40,251.26 L609.90,251.64 L610.40,252.04 L610.90,252.44 L611.40,252.84 L611.90,253.26 L612.40,253.68 L612.90,254.11 L613.40,254.55 L613.90,255.00 L614.40,255.46 L614.90,255.92 L615.40,256.39 L615.90,256.88 L616.40,257.36 L616.90,257.86 L617.40,258.37 L617.90,258.89 L618.40,259.41 L618.90,259.95 L619.40,260.49 L619.90,261.04 L620.40,261.60 L620.90,262.17 L621.40,262.75 L621.90,263.34 L622.40,263.94 L622.90,264.54 L623.40,265.16 L623.90,265.78 L624.40,266.42 L624.90,267.06 L625.40,267.72 L625.90,268.38 L626.40,269.06 L626.90,269.74 L627.40,270.43 L627.90,271.14 L628.40,271.85 L628.90,272.57 L629.40,273.30 L629.90,274.05 L630.40,274.80 L630.90,275.56 L631.40,276.34 L631.90,277.12 L632.40,277.91 L632.90,278.72 L633.40,279.53 L633.90,280.36 L634.40,281.20 L634.90,282.04 L635.40,282.90 L635.90,283.77 L636.40,284.65 L636.90,285.54 L637.40,286.44 L637.90,287.35 L638.40,288.27 L638.90,289.20 L639.40,290.14 L639.90,291.10 L640.40,292.06 L640.90,293.03 L641.40,294.01 L641.90,295.00 L642.40,296.00 L642.90,297.00 L643.40,298.02 L643.90,299.05 L644.40,300.08 L644.90,301.12 L645.40,302.17 L645.90,303.22 L646.40,304.29 L646.90,305.36 L647.40,306.43 L647.90,307.52 L648.40,308.61 L648.90,309.70 L649.40,310.81 L649.90,311.92 L650.40,313.03 L650.90,314.15 L651.40,315.28 L651.90,316.41 L652.40,317.55 L652.90,318.69 L653.40,319.83 L653.90,320.98 L654.40,322.14 L654.90,323.30 L655.40,324.46 L655.90,325.62 L656.40,326.80 L656.90,327.97 L657.40,329.15 L657.90,330.34 L658.40,331.53 L658.90,332.73 L659.40,333.93 L659.90,335.14 L660.40,336.35 L660.90,337.57 L661.40,338.80 L661.90,340.03 L662.40,341.27 L662.90,342.51 L663.40,343.77 L663.90,345.02 L664.40,346.29 L664.90,347.56 L665.40,348.84 L665.90,350.13 L666.40,351.42 L666.90,352.73 L667.40,354.04 L667.90,355.36 L668.40,356.68 L668.90,358.02 L669.40,359.36 L669.90,360.71 L670.40,362.08 L670.90,363.44 L671.20,364.27" fill="none" stroke="#1f77b4" stroke-width="2.05" stroke-linecap="butt" stroke-linejoin="round"/>
<rect x="383.0" y="225.1" width="301.6" height="181.65" fill="none" stroke="#a8a8a8" stroke-width="1.7"/>
<line x1="684.6" y1="224.29999999999998" x2="684.6" y2="407.55" stroke="#747474" stroke-width="1.4"/>
<line x1="396.60" y1="406.75" x2="396.60" y2="409.15" stroke="#999" stroke-width="1"/>
<text x="396.60" y="420.3" font-size="11.2" text-anchor="middle" fill="#1e1e1e">0</text>
<line x1="434.83" y1="406.75" x2="434.83" y2="409.15" stroke="#999" stroke-width="1"/>
<text x="434.83" y="420.3" font-size="11.2" text-anchor="middle" fill="#1e1e1e">50</text>
<line x1="473.06" y1="406.75" x2="473.06" y2="409.15" stroke="#999" stroke-width="1"/>
<text x="473.06" y="420.3" font-size="11.2" text-anchor="middle" fill="#1e1e1e">100</text>
<line x1="511.29" y1="406.75" x2="511.29" y2="409.15" stroke="#999" stroke-width="1"/>
<text x="511.29" y="420.3" font-size="11.2" text-anchor="middle" fill="#1e1e1e">150</text>
<line x1="549.52" y1="406.75" x2="549.52" y2="409.15" stroke="#999" stroke-width="1"/>
<text x="549.52" y="420.3" font-size="11.2" text-anchor="middle" fill="#1e1e1e">200</text>
<line x1="587.75" y1="406.75" x2="587.75" y2="409.15" stroke="#999" stroke-width="1"/>
<text x="587.75" y="420.3" font-size="11.2" text-anchor="middle" fill="#1e1e1e">250</text>
<line x1="625.98" y1="406.75" x2="625.98" y2="409.15" stroke="#999" stroke-width="1"/>
<text x="625.98" y="420.3" font-size="11.2" text-anchor="middle" fill="#1e1e1e">300</text>
<line x1="664.21" y1="406.75" x2="664.21" y2="409.15" stroke="#999" stroke-width="1"/>
<text x="664.21" y="420.3" font-size="11.2" text-anchor="middle" fill="#1e1e1e">350</text>
<line x1="380.6" y1="392.60" x2="383.0" y2="392.60" stroke="#999" stroke-width="1"/>
<text x="379.0" y="397.20" font-size="11.2" text-anchor="end" fill="#1e1e1e">0.2</text>
<line x1="380.6" y1="364.08" x2="383.0" y2="364.08" stroke="#999" stroke-width="1"/>
<text x="379.0" y="368.68" font-size="11.2" text-anchor="end" fill="#1e1e1e">0.4</text>
<line x1="380.6" y1="335.56" x2="383.0" y2="335.56" stroke="#999" stroke-width="1"/>
<text x="379.0" y="340.16" font-size="11.2" text-anchor="end" fill="#1e1e1e">0.6</text>
<line x1="380.6" y1="307.04" x2="383.0" y2="307.04" stroke="#999" stroke-width="1"/>
<text x="379.0" y="311.64" font-size="11.2" text-anchor="end" fill="#1e1e1e">0.8</text>
<line x1="380.6" y1="278.52" x2="383.0" y2="278.52" stroke="#999" stroke-width="1"/>
<text x="379.0" y="283.12" font-size="11.2" text-anchor="end" fill="#1e1e1e">1.0</text>
<line x1="380.6" y1="250.00" x2="383.0" y2="250.00" stroke="#999" stroke-width="1"/>
<text x="379.0" y="254.60" font-size="11.2" text-anchor="end" fill="#1e1e1e">1.2</text>
<text x="672" y="243.6" font-size="13.2" text-anchor="end" fill="#111">Theory</text>
<text transform="translate(355.5,310.0) rotate(-90)" font-size="15.2" text-anchor="middle" fill="#111">Δω (a.u.)</text>
<text x="551" y="440.6" font-size="15.3" text-anchor="middle" fill="#111">Angle θ (°)</text>
<text x="10.9" y="11.2" font-size="14.8" letter-spacing="0.45" fill="#111">(a)</text>
<text x="341.4" y="11.2" font-size="14.8" letter-spacing="0.45" fill="#111">(b)</text>
<text x="10.3" y="212.2" font-size="14.8" letter-spacing="0.45" fill="#111">(c)</text>
<text x="341.6" y="211.8" font-size="14.8" letter-spacing="0.45" fill="#111">(d)</text>
</svg></body></html>
